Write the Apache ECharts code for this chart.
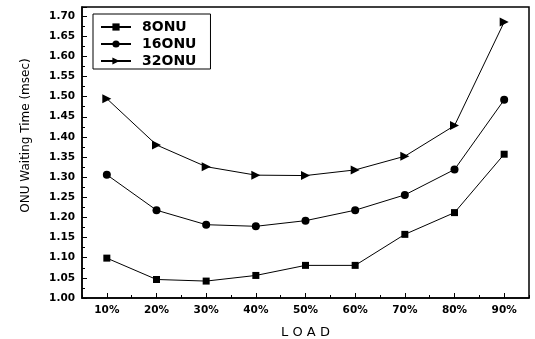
<!DOCTYPE html>
<html>
<head>
<meta charset="utf-8">
<script src="https://cdn.jsdelivr.net/npm/echarts@6/dist/echarts.min.js"></script>
<style>
  html, body { margin: 0; padding: 0; background: #fff; }
  #chart { width: 535px; height: 339px; }
</style>
</head>
<body>
<div id="chart"></div>
<script>
// Offered load levels
const loads = ['10%', '20%', '30%', '40%', '50%', '60%', '70%', '80%', '90%'];

// Mean ONU waiting time (msec) per number of ONUs
const onu8  = [1.099, 1.046, 1.042, 1.056, 1.081, 1.081, 1.158, 1.212, 1.357];
const onu16 = [1.306, 1.218, 1.182, 1.178, 1.192, 1.218, 1.256, 1.319, 1.492];
const onu32 = [1.495, 1.380, 1.326, 1.305, 1.304, 1.318, 1.352, 1.428, 1.685];

const seriesNames = ['8ONU', '16ONU', '32ONU'];

const FONT = 'DejaVu Sans';

const chart = echarts.init(document.getElementById('chart'), null, { renderer: 'canvas' });

function lineSeries(name, data, symbol, size, rotate) {
  return {
    name: name,
    type: 'line',
    xAxisIndex: 0,
    yAxisIndex: 0,
    data: data,
    symbol: symbol,
    symbolSize: size,
    symbolRotate: rotate || 0,
    showSymbol: true,
    lineStyle: { color: '#000', width: 1 },
    itemStyle: { color: '#000' },
    animation: false
  };
}

chart.setOption({
  backgroundColor: '#fff',
  animation: false,
  grid: {
    left: 82, right: 6, top: 7, bottom: 41,
    show: true, borderColor: '#000', borderWidth: 1.5,
    containLabel: false,
    outerBoundsMode: 'none'
  },
  legend: {
    orient: 'vertical',
    left: 93, top: 14,
    backgroundColor: '#fff',
    borderColor: '#000', borderWidth: 1, borderRadius: 0,
    padding: [6, 14, 1, 7],
    itemWidth: 30, itemHeight: 9, itemGap: 3,
    data: seriesNames,
    textStyle: { fontFamily: FONT, fontSize: 14, fontWeight: 'bold', color: '#000', padding: [0, 0, 0, 6] }
  },
  xAxis: [
    {
      type: 'category',
      data: loads,
      boundaryGap: true,
      position: 'bottom',
      name: 'L O A D',
      nameLocation: 'middle',
      nameGap: 28,
      nameTextStyle: { fontFamily: FONT, fontSize: 13, color: '#000' },
      axisLine: { show: true, lineStyle: { color: '#000', width: 1.5 } },
      axisTick: { show: true, inside: true, alignWithLabel: true, length: 5, lineStyle: { color: '#000' } },
      axisLabel: { fontFamily: FONT, fontSize: 10.5, fontWeight: 'bold', color: '#000', margin: 7 },
      splitLine: { show: false }
    },
    {
      // half-step ticks between load levels
      type: 'value',
      min: 5, max: 95, interval: 10,
      position: 'bottom',
      axisLine: { show: false },
      axisTick: { show: true, inside: true, length: 3, lineStyle: { color: '#000' } },
      axisLabel: { show: false },
      splitLine: { show: false }
    }
  ],
  yAxis: {
    type: 'value',
    min: 1.0, max: 1.7225, interval: 0.05,
    name: 'ONU Waiting Time (msec)',
    nameLocation: 'middle',
    nameGap: 50,
    nameRotate: 90,
    nameTextStyle: { fontFamily: FONT, fontSize: 12, color: '#000', padding: [0, 0, 0, 34] },
    axisLine: { show: true, lineStyle: { color: '#000', width: 1.5 } },
    axisTick: { show: true, inside: true, length: 5, lineStyle: { color: '#000' } },
    minorTick: { show: true, splitNumber: 2, length: 3, lineStyle: { color: '#000' } },
    axisLabel: {
      fontFamily: FONT, fontSize: 10.5, fontWeight: 'bold', color: '#000', margin: 7,
      formatter: function (v) { return v > 1.701 ? '' : v.toFixed(2); }
    },
    splitLine: { show: false },
    minorSplitLine: { show: false }
  },
  series: [
    lineSeries(seriesNames[0], onu8, 'rect', 7),
    lineSeries(seriesNames[1], onu16, 'circle', 8),
    lineSeries(seriesNames[2], onu32, 'triangle', 9, -90)
  ]
});
</script>
</body>
</html>
